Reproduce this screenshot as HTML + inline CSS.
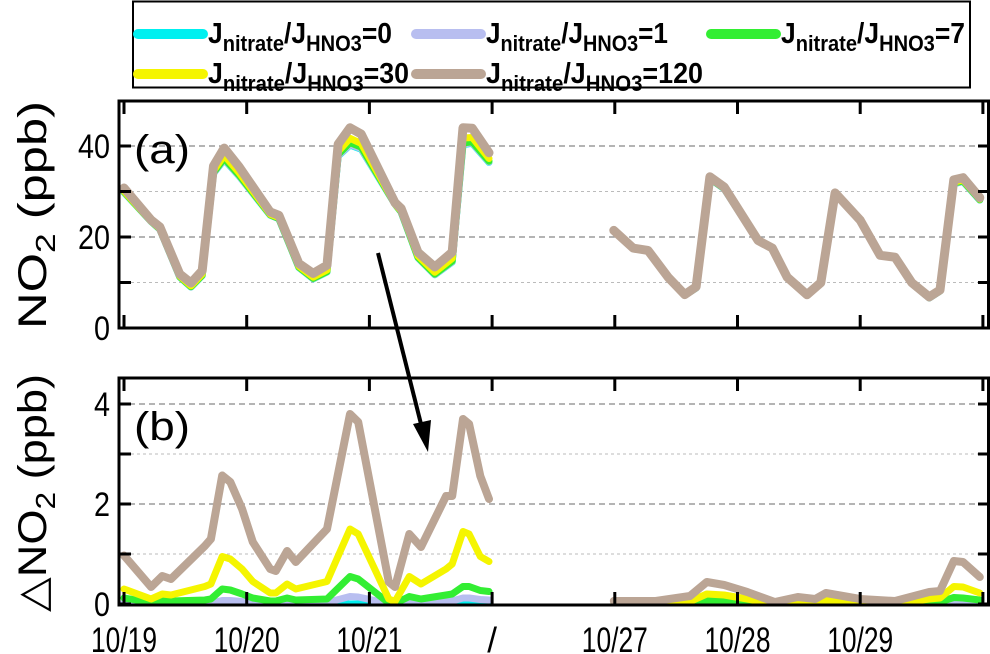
<!DOCTYPE html>
<html><head><meta charset="utf-8"><style>
html,body{margin:0;padding:0;background:#fff;}
svg{display:block;font-family:"Liberation Sans",Arial,sans-serif;}
</style></head><body>
<svg id="chart" width="990" height="654" viewBox="0 0 990 654">
<g id="legend"></g>
<g id="pa"></g>
<g id="pb"></g>
<g id="xt"></g>
<line x1="378" y1="253" x2="422" y2="428" stroke="#000" stroke-width="4"/>
<polygon points="428,452 413,424 431,420" fill="#000"/>
</svg>
<script>
// ---- data (hours since 10/19 00:00 on the compressed axis) ----
const tA1=[0,5.3,7,10.9,13.1,15.3,17.5,19.6,22.5,28.6,30.3,34.2,37,39.7,41.9,44.2,46.4,53,54.2,57.5,60.8,64.2,66.3,68.1,71.4];
const no2Base1=[29.8,23.4,21.7,11.2,9,11.5,34,37,33.4,24.8,24,13.3,10.8,12.3,37.8,40.2,39.3,27.2,25.5,15.4,11.7,14.5,40.3,40.6,36.4];
const tA2=[95.8,99.6,102.5,106.4,109.7,111.9,114.6,117.4,124,126.8,129.7,133.6,136.3,139.1,144,147.9,150.8,154.1,157.5,159.6,162.3,164.1,167.4];
const no2Base2=[21.4,17.5,17.0,11.1,7.2,8.8,32.8,30.6,19.1,17.5,11.1,7.2,9.8,29.5,23.6,15.9,15.5,9.8,6.6,8.1,31.7,32.2,28.1];
const tB1=[0,5.3,7.5,9.2,15.8,17,19.2,20.8,23.1,25.2,28.6,29.7,31.9,33.6,39.7,44.2,45.8,51.8,53,55.8,58.1,63,64.2,66.3,67.5,69.7,71.4];
const d120_1=[0.97,0.34,0.56,0.5,1.16,1.3,2.57,2.44,1.9,1.24,0.7,0.66,1.06,0.84,1.5,3.8,3.64,0.44,0.34,1.4,1.14,2.16,2.16,3.7,3.6,2.56,2.1];
const d30_1=[0.3,0.1,0.2,0.18,0.35,0.4,0.95,0.9,0.7,0.45,0.22,0.22,0.4,0.3,0.45,1.5,1.4,0.1,0.05,0.55,0.4,0.7,0.8,1.45,1.4,0.95,0.85];
const d7_1=[0.12,0.03,0.07,0.06,0.08,0.1,0.3,0.28,0.2,0.12,0.06,0.06,0.12,0.08,0.1,0.55,0.5,0.02,0.01,0.15,0.1,0.18,0.2,0.35,0.35,0.27,0.25];
const d1_1=[0.03,0.01,0.02,0.02,0.02,0.02,0.07,0.07,0.05,0.03,0.01,0.01,0.03,0.02,0.03,0.15,0.14,0.01,0,0.04,0.03,0.05,0.06,0.12,0.12,0.09,0.08];
const d0_1=[0,0,0,0,0,0,0,0,0,0,0,0,0,0,0,0,0,0,0,0,0,0,0,0,0,0,0];
const tB2=[95.8,104,110.7,114,117.4,121.9,127.3,131.8,135.2,137.3,144,150.8,157.5,159.6,162.3,164.1,167.4];
const d120_2=[0.06,0.06,0.16,0.44,0.38,0.24,0.04,0.14,0.1,0.22,0.1,0.06,0.24,0.26,0.86,0.84,0.54];
const d30_2=[0,0,0.05,0.2,0.18,0.1,0,0.04,0.03,0.08,0.03,0,0.1,0.12,0.35,0.34,0.22];
const d7_2=[0,0,0.01,0.07,0.06,0.03,0,0.01,0.01,0.02,0.01,0,0.03,0.04,0.13,0.12,0.08];
const d1_2=[0,0,0,0.02,0.02,0.01,0,0,0,0.01,0,0,0.01,0.01,0.04,0.04,0.03];
const d0_2=[0,0,0,0,0,0,0,0,0,0,0,0,0,0,0,0,0];
const xTickLabels=["10/19","10/20","10/21","/","10/27","10/28","10/29",""];
const yTicksA=[0,20,40];
const yTicksB=[0,2,4];
const seriesNames=["0","1","7","30","120"];
const colors=["#00f0f0","#b8bef0","#33ee33","#f5f500","#bba595"];

const NS="http://www.w3.org/2000/svg";
function mk(tag,attrs,parent){const e=document.createElementNS(NS,tag);for(const k in attrs)e.setAttribute(k,attrs[k]);parent.appendChild(e);return e;}
const L=119,R=990;
const x0=124,dayPx=122.7;
function xs(h){return x0+h/24*dayPx;}
const A={top:101,bot:328,zero:328,per:4.55};
const B={top:378,bot:605,zero:604,per:50};
function yA(v){return A.zero-v*A.per;}
function yB(v){return B.zero-v*B.per;}
function interp(t,ts,vs){if(t<=ts[0])return vs[0];for(let i=1;i<ts.length;i++){if(t<=ts[i]){const f=(t-ts[i-1])/(ts[i]-ts[i-1]);return vs[i-1]+f*(vs[i]-vs[i-1]);}}return vs[vs.length-1];}
function pathStr(ts,vs,ys){return ts.map((t,i)=>(i?'L':'M')+xs(t).toFixed(1)+','+ys(vs[i]).toFixed(1)).join(' ');}

function panel(g,P,ticks,minor,ys,labelName){
  mk('defs',{},g).innerHTML='<clipPath id="clip'+labelName+'"><rect x="'+L+'" y="'+P.top+'" width="'+(R-L)+'" height="'+(P.bot-P.top)+'"/></clipPath>';
  minor.forEach(v=>{const l=mk('line',{x1:L,x2:R,y1:ys(v),y2:ys(v),stroke:'#bbb','stroke-width':1,'stroke-dasharray':'3,3'},g);});
  ticks.forEach(v=>{if(v===0)return;const l=mk('line',{x1:L,x2:R,y1:ys(v),y2:ys(v),stroke:'#888','stroke-width':1.2,'stroke-dasharray':'6,4'},g);});
  return 'clip'+labelName;
}
function frame(g,P,ticks,minor,ys,lab){
  mk('rect',{x:L,y:P.top,width:R-L-1.5,height:P.bot-P.top,fill:'none',stroke:'#000','stroke-width':3},g);
  ticks.concat(minor).forEach(v=>{
    const y=ys(v);
    mk('line',{x1:L,x2:L+12,y1:y,y2:y,stroke:'#000','stroke-width':3},g);
    mk('line',{x1:R-12,x2:R,y1:y,y2:y,stroke:'#000','stroke-width':3},g);
  });
  ticks.forEach(v=>{const s=String(v);const t=mk('text',{x:110,y:ys(v)+12,'text-anchor':'end','font-size':34,textLength:s.length*16,lengthAdjust:'spacingAndGlyphs'},g);t.textContent=s;});
  for(let i=0;i<8;i++){const x=x0+i*dayPx;
    mk('line',{x1:x,x2:x,y1:P.top,y2:P.top+13,stroke:'#000','stroke-width':3},g);
    mk('line',{x1:x,x2:x,y1:P.bot-13,y2:P.bot,stroke:'#000','stroke-width':3},g);}
  const t=mk('text',{x:134,y:P.top+62,'font-size':40,textLength:56,lengthAdjust:'spacingAndGlyphs'},g);t.textContent=lab;
}
const deltas1=[d0_1,d1_1,d7_1,d30_1,d120_1],deltas2=[d0_2,d1_2,d7_2,d30_2,d120_2];
// Panel A
const ga=document.getElementById('pa');
const ca=panel(ga,A,yTicksA,[10,30],yA,'a');
const gla=mk('g',{'clip-path':'url(#'+ca+')'},ga);
for(let k=0;k<5;k++){
  [[tA1,no2Base1,tB1,deltas1[k]],[tA2,no2Base2,tB2,deltas2[k]]].forEach(s=>{
    const vals=s[0].map((t,i)=>s[1][i]+interp(t,s[2],s[3]));
    const p=mk('path',{d:pathStr(s[0],vals,yA),fill:'none',stroke:colors[k],'stroke-width':k===4?9:7,'stroke-linejoin':'round','stroke-linecap':'round'},gla);
    
    
  });
}
frame(ga,A,yTicksA,[10,30],yA,'(a)');
// Panel B
const gb=document.getElementById('pb');
const cb=panel(gb,B,yTicksB,[1,3],yB,'b');
const glb=mk('g',{'clip-path':'url(#'+cb+')'},gb);
for(let k=0;k<5;k++){
  [[tB1,deltas1[k]],[tB2,deltas2[k]]].forEach(s=>{
    const p=mk('path',{d:pathStr(s[0],s[1],yB),fill:'none',stroke:colors[k],'stroke-width':k===4?8:7,'stroke-linejoin':'round','stroke-linecap':'round'},glb);
    
    
  });
}
frame(gb,B,yTicksB,[1,3],yB,'(b)');
// x labels
const gx=document.getElementById('xt');
xTickLabels.forEach((s,i)=>{if(!s)return;const t=mk('text',{x:x0+i*dayPx,y:652,'text-anchor':'middle','font-size':35},gx);if(s.length>1){t.setAttribute('textLength',66);t.setAttribute('lengthAdjust','spacingAndGlyphs');}t.textContent=s;});
// y titles
const svg=document.getElementById('chart');
let yt=mk('text',{transform:'translate(46,215) rotate(-90)','text-anchor':'middle','font-size':40,textLength:228,lengthAdjust:'spacingAndGlyphs'},svg);
yt.innerHTML='NO<tspan font-size="28" dy="9">2</tspan><tspan dy="-9"> (ppb)</tspan>';


let yt2=mk('text',{transform:'translate(46,493) rotate(-90)','text-anchor':'middle','font-size':40,textLength:238,lengthAdjust:'spacingAndGlyphs'},svg);
yt2.innerHTML='\u25B3NO<tspan font-size="28" dy="9">2</tspan><tspan dy="-9"> (ppb)</tspan>';


// legend
const gl=document.getElementById('legend');
mk('rect',{x:133,y:1.5,width:837,height:86,fill:'#fff',stroke:'#000','stroke-width':2},gl);
const legPos=[[135,22],[413,22],[708,22],[135,62],[413,62]];
const legText=[184,182,184,201,217];
for(let k=0;k<5;k++){
  const [lx,ly]=legPos[k];
  const g=mk('g',{},gl);
  
  
  mk('line',{x1:lx+3,x2:lx+68,y1:ly+12,y2:ly+12,stroke:colors[k],'stroke-width':10,'stroke-linecap':'round'},g);
  const t=mk('text',{x:lx+73,y:ly+21,'font-size':29,'font-weight':'bold',textLength:legText[k],lengthAdjust:'spacingAndGlyphs'},g);
  t.innerHTML='J<tspan font-size="22" dy="8">nitrate</tspan><tspan dy="-8">/J</tspan><tspan font-size="22" dy="8">HNO3</tspan><tspan dy="-8">='+seriesNames[k]+'</tspan>';
}
</script>
</body></html>
